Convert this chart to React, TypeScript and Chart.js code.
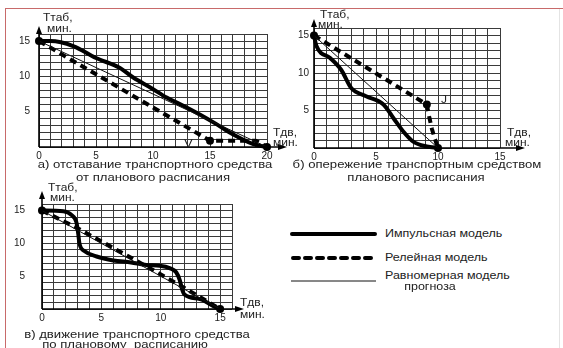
import React, { useEffect, useRef } from 'react';
import { Chart, registerables } from 'chart.js';
Chart.register(...registerables);

// ---------- data ----------
// Panel а) отставание
const aImpulseX = [0, 1, 3, 5, 7.1, 8.3, 9.8, 11.2, 12.7, 14.1, 15.6, 17, 18.8, 20];
const aImpulseY = [15, 15, 14.3, 12.6, 11.2, 9.8, 8.4, 7.0, 5.8, 4.6, 3.2, 1.8, 0.4, 0];
const aRelayX = [0, 15, 19, 20];
const aRelayY = [15, 0.9, 0.9, 0];
const aUniformX = [0, 20];
const aUniformY = [15, 0];
const aDotsX = [0, 15, 20];
const aDotsY = [15, 0.9, 0];
const aXTicks = [0, 5, 10, 15, 20];

// Panel б) опережение
const bImpulseX = [0, 0.2, 1.3, 2.2, 3, 4.2, 5.6, 6.4, 7.2, 8, 9.1, 10];
const bImpulseY = [15, 13.6, 12, 10.4, 8, 6.9, 5.8, 4, 2.2, 0.85, 0.2, 0];
const bRelayX = [0, 9.1, 9.3, 9.5, 9.75, 10];
const bRelayY = [15, 5.8, 4.1, 2.6, 1.2, 0];
const bUniformX = [0, 10];
const bUniformY = [15, 0];
const bDotsX = [0, 9.1, 10];
const bDotsY = [15, 5.8, 0];
const bXTicks = [0, 5, 10, 15];

// Panel в) по расписанию
const cImpulseX = [0, 1.8, 2.5, 2.9, 3.05, 3.15, 3.6, 4.6, 6, 7.5, 8.8, 9.9, 10.8, 11.3, 11.6, 11.8, 12, 13.3, 14.7, 15];
const cImpulseY = [15, 14.9, 14.3, 13.2, 11.5, 10, 8.8, 8, 7.4, 7.1, 6.7, 6.6, 6.2, 5.6, 4.4, 3, 2.2, 1.5, 0.2, 0];
const cRelayX = [0, 3, 6, 9, 12, 15];
const cRelayY = [15, 12.3, 9.3, 6.3, 3.2, 0];
const cUniformX = [0, 15];
const cUniformY = [15, 0];
const cDotsX = [0, 15];
const cDotsY = [15, 0];
const cXTicks = [0, 5, 10, 15];

const yTicks = [5, 10, 15];
const legendLabels = ['Импульсная модель', 'Релейная модель', 'Равномерная модель', 'прогноза'];

const FONT = '"Liberation Sans", Arial, Helvetica, sans-serif';

type Pt = { x: number; y: number };
const zip = (xs: number[], ys: number[]): Pt[] => xs.map((x, i) => ({ x, y: ys[i] }));

interface Spec {
  left: number; top: number; width: number; height: number;
  area: { l: number; t: number; r: number; b: number };
  xMax: number; yMax: number; xTicks: number[];
  impulse: Pt[]; relay: Pt[]; uniform: Pt[]; dots: Pt[];
  arrowX: number; arrowY: number; yPad: number;
}

function Panel({ s }: { s: Spec }) {
  const ref = useRef<HTMLCanvasElement>(null);
  useEffect(() => {
    if (!ref.current) return;
    const yW = s.area.l - s.left;
    const padTop = s.area.t - s.top;
    const padRight = s.left + s.width - s.area.r;
    const xH = 14;
    const padBottom = s.top + s.height - s.area.b - xH;
    const arrows = {
      id: 'arrows',
      afterDraw(chart: any) {
        const { ctx } = chart;
        const { left, right, top, bottom } = chart.chartArea;
        ctx.save();
        ctx.strokeStyle = '#000';
        ctx.fillStyle = '#000';
        ctx.lineWidth = 1.6;
        const yTip = top - s.arrowY;
        const xTip = right + s.arrowX;
        ctx.beginPath();
        ctx.moveTo(left, bottom);
        ctx.lineTo(left, yTip + 4);
        ctx.stroke();
        ctx.beginPath();
        ctx.moveTo(left, bottom);
        ctx.lineTo(xTip - 4, bottom);
        ctx.stroke();
        ctx.beginPath();
        ctx.moveTo(left, yTip);
        ctx.lineTo(left - 3, yTip + 8);
        ctx.lineTo(left + 3, yTip + 8);
        ctx.closePath();
        ctx.fill();
        ctx.beginPath();
        ctx.moveTo(xTip, bottom);
        ctx.lineTo(xTip - 9, bottom - 3);
        ctx.lineTo(xTip - 9, bottom + 3);
        ctx.closePath();
        ctx.fill();
        ctx.restore();
      },
    };
    const chart = new Chart(ref.current, {
      type: 'line',
      data: {
        datasets: [
          { data: s.uniform, borderColor: '#111', borderWidth: 1, pointRadius: 0, tension: 0 },
          { data: s.relay, borderColor: '#000', borderWidth: 4, borderDash: [7, 5], pointRadius: 0, tension: 0 },
          { data: s.impulse, borderColor: '#000', borderWidth: 4, pointRadius: 0, cubicInterpolationMode: 'monotone', borderCapStyle: 'round', borderJoinStyle: 'round' },
          { data: s.dots, showLine: false, pointRadius: 4, pointBackgroundColor: '#000', pointBorderColor: '#000', borderWidth: 0 },
        ] as any,
      },
      options: {
        responsive: false,
        animation: false,
        events: [],
        layout: { padding: { left: 0, top: padTop, right: padRight, bottom: padBottom } },
        plugins: { legend: { display: false }, tooltip: { enabled: false } },
        elements: { line: { fill: false } },
        datasets: { line: { clip: false } } as any,
        scales: {
          x: {
            type: 'linear', min: 0, max: s.xMax,
            afterFit: (sc: any) => { sc.height = xH; },
            grid: { color: '#3a3a3a', lineWidth: 1, drawTicks: false },
            border: { display: false },
            ticks: {
              stepSize: 1, autoSkip: false, maxRotation: 0, padding: 3,
              font: { family: FONT, size: 10 }, color: '#222',
              callback: (v: any) => (s.xTicks.includes(Number(v)) ? String(v) : ''),
            },
          },
          y: {
            type: 'linear', min: 0, max: s.yMax,
            afterFit: (sc: any) => { sc.width = yW; },
            grid: { color: '#3a3a3a', lineWidth: 1, drawTicks: false },
            border: { display: false },
            ticks: {
              stepSize: 1, autoSkip: false, padding: s.yPad,
              font: { family: FONT, size: 10 }, color: '#222',
              callback: (v: any) => (yTicks.includes(Number(v)) ? String(v) : ''),
            },
          },
        },
      } as any,
      plugins: [arrows],
    });
    return () => chart.destroy();
  }, []);
  return (
    <canvas
      ref={ref}
      width={s.width}
      height={s.height}
      style={{ position: 'absolute', left: s.left, top: s.top, width: s.width, height: s.height }}
    />
  );
}

function T({ x, y, text, size = 10, sx = 1.2, center = false }: { x: number; y: number; text: string; size?: number; sx?: number; center?: boolean }) {
  return (
    <div
      style={{
        position: 'absolute', left: x, top: y, fontFamily: FONT, fontSize: size, lineHeight: 1,
        whiteSpace: 'pre', color: '#222',
        transform: `translate(${center ? '-50%' : '0'}, -50%) scaleX(${sx})`,
        transformOrigin: center ? 'center center' : 'left center',
      }}
    >
      {text}
    </div>
  );
}

const specA: Spec = {
  left: 0, top: 0, width: 300, height: 162,
  area: { l: 39, t: 34, r: 267, b: 148 },
  xMax: 20, yMax: 16, xTicks: aXTicks,
  impulse: zip(aImpulseX, aImpulseY), relay: zip(aRelayX, aRelayY), uniform: zip(aUniformX, aUniformY), dots: zip(aDotsX, aDotsY),
  arrowX: 20, arrowY: 8, yPad: 9,
};
const specB: Spec = {
  left: 275, top: 0, width: 255, height: 162,
  area: { l: 314, t: 28, r: 500, b: 148 },
  xMax: 15, yMax: 16, xTicks: bXTicks,
  impulse: zip(bImpulseX, bImpulseY), relay: zip(bRelayX, bRelayY), uniform: zip(bUniformX, bUniformY), dots: zip(bDotsX, bDotsY),
  arrowX: 25, arrowY: 9, yPad: 5,
};
const specC: Spec = {
  left: 0, top: 170, width: 260, height: 162,
  area: { l: 42, t: 204, r: 232, b: 318 },
  xMax: 16, yMax: 16, xTicks: cXTicks,
  impulse: zip(cImpulseX, cImpulseY), relay: zip(cRelayX, cRelayY), uniform: zip(cUniformX, cUniformY), dots: zip(cDotsX, cDotsY),
  arrowX: 12, arrowY: 13, yPad: 17,
};

export default function App() {
  return (
    <div style={{ position: 'absolute', left: 0, top: 0, width: 563, height: 348, overflow: 'hidden', background: '#fff' }}>
      <div style={{ position: 'absolute', left: 5, top: 8, width: 558, height: 1, background: '#c86a6a' }} />
      <div style={{ position: 'absolute', left: 5, top: 8, width: 1, height: 340, background: '#c86a6a' }} />
      <div style={{ position: 'absolute', left: 559, top: 9, width: 1, height: 339, background: '#e4e4e4' }} />

      <Panel s={specA} />
      <Panel s={specB} />
      <Panel s={specC} />

      {/* axis labels */}
      <T x={43} y={18} text="Ттаб," />
      <T x={47} y={29} text="мин." />
      <T x={273} y={133} text="Тдв," />
      <T x={273} y={143} text="мин." />
      <T x={320} y={15} text="Ттаб," />
      <T x={318} y={25} text="мин." />
      <T x={507} y={133} text="Тдв," />
      <T x={505} y={143} text="мин." />
      <T x={48} y={188} text="Ттаб," />
      <T x={50} y={198} text="мин." />
      <T x={240} y={303} text="Тдв," />
      <T x={240} y={315} text="мин." />
      <T x={184} y={143} text="V" size={11} />
      <T x={441} y={100} text="J" size={10} />

      {/* titles */}
      <T x={155} y={164} text="а) отставание транспортного средства" size={10.5} sx={1.25} center />
      <T x={153} y={177} text="от планового расписания" size={10.5} sx={1.25} center />
      <T x={417} y={164} text="б) опережение транспортным средством" size={10.5} sx={1.25} center />
      <T x={416} y={177} text="планового расписания" size={10.5} sx={1.25} center />
      <T x={137} y={334} text="в) движение транспортного средства" size={10.5} sx={1.25} center />
      <T x={125} y={344} text="по плановому  расписанию" size={10.5} sx={1.25} center />

      {/* legend */}
      <svg width={100} height={70} style={{ position: 'absolute', left: 285, top: 225 }}>
        <line x1={7} y1={9} x2={90} y2={9} stroke="#000" strokeWidth={4} strokeLinecap="round" />
        <line x1={8} y1={33} x2={88} y2={33} stroke="#000" strokeWidth={4} strokeDasharray="6 6" strokeLinecap="round" />
        <line x1={6} y1={56} x2={91} y2={56} stroke="#111" strokeWidth={1} />
      </svg>
      <T x={385} y={234} text={legendLabels[0]} size={10} sx={1.25} />
      <T x={385} y={258} text={legendLabels[1]} size={10} sx={1.25} />
      <T x={385} y={276} text={legendLabels[2]} size={10} sx={1.25} />
      <T x={430} y={287} text={legendLabels[3]} size={10} sx={1.25} center />
    </div>
  );
}
